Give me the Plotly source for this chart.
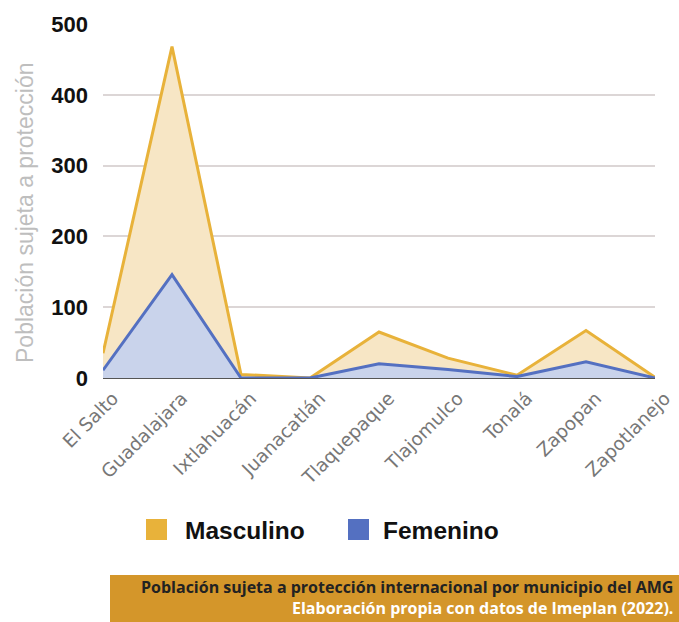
import plotly.graph_objects as go

municipios = ["El Salto", "Guadalajara", "Ixtlahuacán", "Juanacatlán", "Tlaquepaque",
              "Tlajomulco", "Tonalá", "Zapopan", "Zapotlanejo"]
masculino = [35, 468, 5, 0, 65, 28, 4, 67, 1]
femenino = [11, 146, 0, 0, 20, 12, 2, 23, 0]
y_ticks = [0, 100, 200, 300, 400, 500]
series_names = ["Masculino", "Femenino"]
line_colors = ["#E8B23A", "#5470C1"]

fig = go.Figure()
fig.add_trace(go.Scatter(x=municipios, y=masculino, mode="lines", fill="tozeroy",
                         name=series_names[0],
                         fillcolor="#F7E6C5", line=dict(color=line_colors[0], width=3),
                         showlegend=False))
fig.add_trace(go.Scatter(x=municipios, y=femenino, mode="lines", fill="tozeroy",
                         name=series_names[1],
                         fillcolor="#C9D3EB", line=dict(color=line_colors[1], width=3),
                         showlegend=False))

L, T, R, B = 103, 24, 655, 378
PW, PH = R - L, B - T


def px(x):
    return (x - L) / PW


def py(y):
    return (B - y) / PH


shapes = [dict(type="rect", xref="paper", yref="paper",
               x0=px(110), x1=px(679), y0=py(622), y1=py(575),
               fillcolor="#D4962A", line=dict(width=0), layer="above")]
annotations = [
    dict(text="<b><span style='color:#222'>Población sujeta a protección internacional por municipio del AMG</span>"
              "<br><span style='color:#FFFFFF'>Elaboración propia con datos de Imeplan (2022).</span></b>",
         xref="paper", yref="paper", x=px(675), y=py(597),
         xanchor="right", yanchor="middle", align="right", showarrow=False,
         font=dict(family="Open Sans", size=16, color="#222")),
    dict(text="Población sujeta a protección", textangle=-90,
         xref="paper", yref="paper", x=px(25), y=py(213),
         xanchor="center", yanchor="middle", showarrow=False,
         font=dict(family="Liberation Sans", size=23, color="#BEBEBE")),
]

# legend: colour swatches + labels
legend_swatch_x = [146, 348]
legend_text_x = [183, 381]
for name, col, sx, tx in zip(series_names, line_colors, legend_swatch_x, legend_text_x):
    shapes.append(dict(type="rect", xref="paper", yref="paper",
                       x0=px(sx), x1=px(sx + 21), y0=py(540), y1=py(519),
                       fillcolor=col, line=dict(width=0)))
    annotations.append(dict(text="<b>" + name + "</b>", xref="paper", yref="paper",
                            x=px(tx), y=py(530), xanchor="left", yanchor="middle",
                            showarrow=False,
                            font=dict(family="Liberation Sans", size=24.5, color="#111")))

fig.update_layout(
    width=679, height=622,
    margin=dict(l=L, r=679 - R, t=T, b=622 - B, autoexpand=False),
    paper_bgcolor="white", plot_bgcolor="white",
    showlegend=False,
    xaxis=dict(range=[0, 8], tickangle=-45, showgrid=False, zeroline=False,
               tickfont=dict(family="DejaVu Sans", size=18.5, color="#777"),
               showline=False, ticks="", automargin=False, ticklabelshift=10,
               ticklabelstandoff=5),
    yaxis=dict(range=[0, 500], tickvals=y_ticks, showgrid=True, gridcolor="#DCD6D6",
               gridwidth=1.5, zeroline=True, zerolinecolor="#555", zerolinewidth=2,
               tickfont=dict(family="Liberation Sans", size=22, color="#111", weight="bold"),
               ticks="", ticklabelstandoff=14, automargin=False),
    shapes=shapes,
    annotations=annotations,
)

fig.write_html("out.html", config={"displayModeBar": False},
               post_script="document.body.style.margin='0px';")
